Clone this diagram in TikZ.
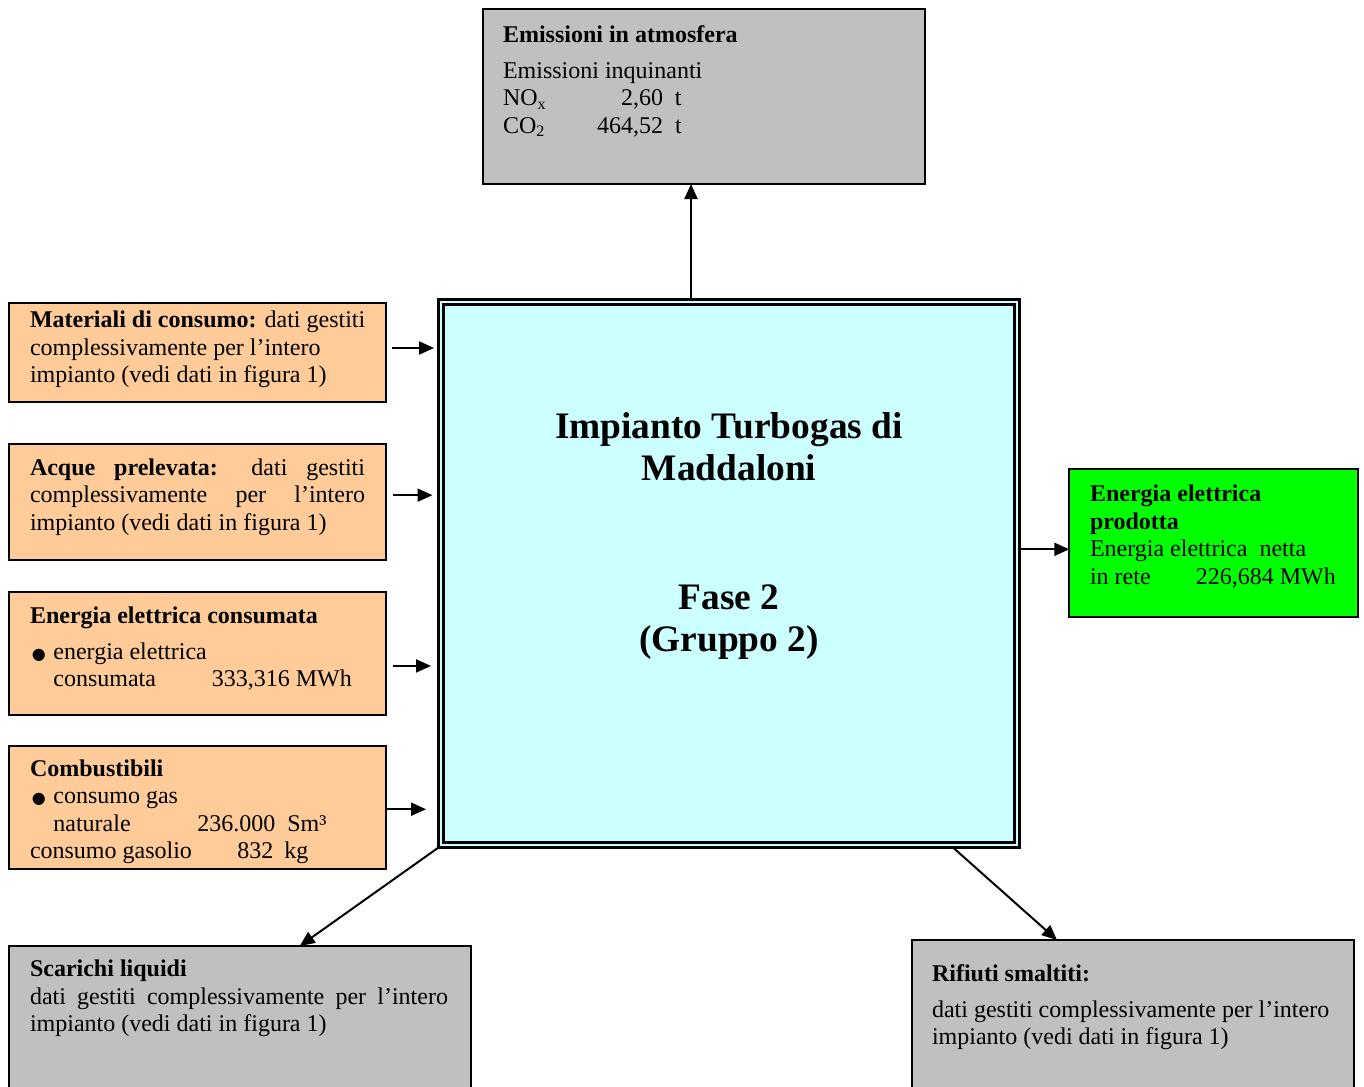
\documentclass[tikz,border=0pt]{standalone}
\usepackage{fontspec}
\setmainfont{Liberation Serif}
\newfontfamily\symfont{DejaVu Sans}
\usetikzlibrary{arrows.meta,calc}
\definecolor{boxgray}{HTML}{C0C0C0}
\definecolor{boxorange}{HTML}{FFCC99}
\definecolor{boxcyan}{HTML}{CCFFFF}
\definecolor{boxgreen}{HTML}{00FF00}
\newcommand\blt{\makebox[11.7pt][l]{\hspace{1pt}\symfont\fontsize{8}{8}\selectfont ●}}
\begin{document}
\begin{tikzpicture}[x=0.5pt,y=-0.5pt,
  panel/.style={draw=black, line width=1pt, anchor=north west, inner sep=0pt, outer sep=0pt},
  txt/.style={anchor=north west, inner sep=0pt, outer sep=0pt, align=left, font=\fontsize{12}{13.8}\selectfont},
  ttl/.style={anchor=north, inner sep=0pt, outer sep=0pt, align=center, font=\fontsize{18.7}{21}\selectfont\bfseries},
  arr/.style={line width=1pt, -{Triangle[length=7.5pt,width=6.5pt]}}]
\useasboundingbox (0,0) rectangle (1364,1086);
% boxes
\node[panel, fill=boxgray, minimum width={(925-483)*0.5pt}, minimum height={(184-9)*0.5pt}] (emis) at (483,9) {};
\node[panel, fill=boxcyan, line width=1.25pt, minimum width={(1019.5-438.5)*0.5pt}, minimum height={(847.5-299.5)*0.5pt}] (main) at (438.5,299.5) {};
\draw[line width=1.75pt] ([shift={(5,5)}]main.north west) rectangle ([shift={(-5,-5)}]main.south east);
\node[panel, fill=boxorange, minimum width={(386-9)*0.5pt}, minimum height={(401.7-303.3)*0.5pt}] (mat) at (9,303.3) {};
\node[panel, fill=boxorange, minimum width={(386-9)*0.5pt}, minimum height={(560-444.3)*0.5pt}] (acq) at (9,444.3) {};
\node[panel, fill=boxorange, minimum width={(386-9)*0.5pt}, minimum height={(715-592.3)*0.5pt}] (enc) at (9,592.3) {};
\node[panel, fill=boxorange, minimum width={(386-9)*0.5pt}, minimum height={(868.7-745.7)*0.5pt}] (comb) at (9,745.7) {};
\node[panel, fill=boxgreen, minimum width={(1358.3-1069.3)*0.5pt}, minimum height={(616.7-469.3)*0.5pt}] (green) at (1069.3,469.3) {};
\node[panel, fill=boxgray, minimum width={(470.5-9)*0.5pt}, minimum height={(1095-946)*0.5pt}] (scar) at (9,946) {};
\node[panel, fill=boxgray, minimum width={(1353.5-912)*0.5pt}, minimum height={(1095-940)*0.5pt}] (rif) at (912,940) {};
% texts
\node[txt] (emisT) at (503,22.7) {\strut\textbf{Emissioni in atmosfera}\\[4.2pt]
  Emissioni inquinanti\\
  \makebox[80pt][l]{NO\textsubscript{x}\hfill 2,60}\hspace{6pt}t\\
  \makebox[80pt][l]{CO\textsubscript{2}\hfill 464,52}\hspace{6pt}t};
\node[ttl] (title1) at (729,408.6) {\strut Impianto Turbogas di\\Maddaloni};
\node[ttl] (title2) at (729,579.6) {\strut Fase 2\\(Gruppo 2)};
\node[txt] (matT) at (30,308.2) {\strut\textbf{Materiali di consumo:} dati gestiti\\
  complessivamente per l’intero\\
  impianto (vedi dati in figura 1)};
\node[txt] (acqT) at (30,455.7) {\strut\makebox[167.5pt][s]{\textbf{Acque prelevata:} dati gestiti}\\
  \makebox[167.5pt][s]{complessivamente per l’intero}\\
  impianto (vedi dati in figura 1)};
\node[txt] (encT) at (30,604) {\strut\textbf{Energia elettrica consumata}\\[4.2pt]
  \blt energia elettrica\\
  \hspace*{11.7pt}\makebox[79.2pt][l]{consumata}333,316 MWh};
\node[txt] (combT) at (30,756.7) {\strut\textbf{Combustibili}\\
  \blt consumo gas\\
  \hspace*{11.7pt}\makebox[72pt][l]{naturale}236.000\hspace{6pt}Sm³\\
  \makebox[103.7pt][l]{consumo gasolio}832\hspace{5.5pt}kg};
\node[txt] (greenT) at (1090,482.4) {\strut\textbf{Energia elettrica}\\
  \textbf{prodotta}\\
  Energia elettrica\hspace{6pt}netta\\
  \makebox[52.9pt][l]{in rete}226,684 MWh};
\node[txt] (scarT) at (30,957.4) {\strut\textbf{Scarichi liquidi}\\
  \makebox[209pt][s]{dati gestiti complessivamente per l’intero}\\
  impianto (vedi dati in figura 1)};
\node[txt] (rifT) at (932,962.4) {\strut\textbf{Rifiuti smaltiti:}\\[4pt]
  dati gestiti complessivamente per l’intero\\
  impianto (vedi dati in figura 1)};
% connectors
\draw[arr] ([xshift=-19pt]main.north) -- ([xshift=-19pt]main.north |- emis.south);
\draw[arr, shorten <=3pt, shorten >=2.25pt] ([yshift=2.25pt]mat.east) -- ([yshift=2.25pt]main.west |- mat.east);
\draw[arr, shorten <=3.5pt, shorten >=3pt] ([yshift=3.5pt]acq.east) -- ([yshift=3.5pt]main.west |- acq.east);
\draw[arr, shorten <=3.5pt, shorten >=3.75pt] ([yshift=-6.15pt]enc.east) -- ([yshift=-6.15pt]main.west |- enc.east);
\draw[arr, shorten >=6.25pt] ([yshift=-1pt]comb.east) -- ([yshift=-1pt]main.west |- comb.east);
\draw[arr] ([yshift=-3.15pt]main.east |- green.west) -- ([yshift=-3.15pt]green.west);
\draw[arr] (main.south west) -- ([xshift=30pt]scar.north);
\draw[arr] ([xshift=112pt]main.south) -- ([xshift=-37.9pt]rif.north);
\end{tikzpicture}
\end{document}
